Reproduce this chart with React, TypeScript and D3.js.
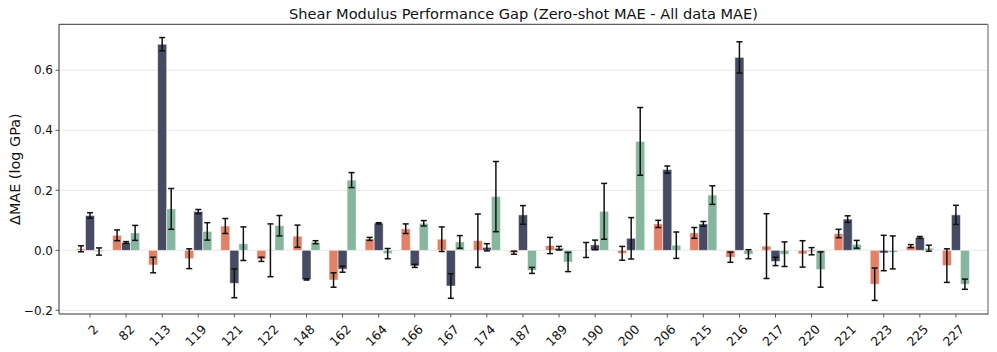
import React from "react";
import * as d3 from "d3";

const categories = ["2","82","113","119","121","122","148","162","164","166","167","174","187","189","190","200","206","215","216","217","220","221","223","225","227"];
const seriesA = [0.005,0.05,-0.049,-0.028,0.081,-0.03,0.047,-0.099,0.038,0.072,0.037,0.032,-0.008,0.016,0.001,-0.01,0.088,0.058,-0.023,0.014,-0.012,0.056,-0.113,0.014,-0.051];
const errA = [0.01,0.018,0.026,0.033,0.025,0.007,0.037,0.024,0.005,0.016,0.041,0.089,0.005,0.027,0.025,0.023,0.012,0.018,0.017,0.108,0.044,0.014,0.054,0.005,0.056];
const seriesB = [0.116,0.026,0.687,0.129,-0.11,0.0,-0.097,-0.063,0.09,-0.052,-0.119,0.01,0.118,0.007,0.018,0.04,0.269,0.088,0.643,-0.037,-0.003,0.104,-0.009,0.043,0.118];
const errB = [0.009,0.003,0.022,0.007,0.048,0.088,0.002,0.01,0.002,0.005,0.041,0.012,0.031,0.006,0.016,0.069,0.012,0.008,0.052,0.014,0.012,0.011,0.059,0.003,0.032];
const seriesC = [-0.004,0.058,0.138,0.063,0.022,0.082,0.027,0.234,-0.011,0.09,0.028,0.179,-0.067,-0.039,0.13,0.363,0.017,0.184,-0.013,-0.013,-0.064,0.02,-0.007,0.007,-0.113];
const errC = [0.012,0.025,0.068,0.029,0.056,0.034,0.005,0.025,0.017,0.009,0.021,0.117,0.01,0.032,0.093,0.113,0.044,0.031,0.015,0.041,0.059,0.013,0.055,0.01,0.017];
const yTicks = [-0.2, 0.0, 0.2, 0.4, 0.6];
const colors = ["#E07A5F", "#3D405B", "#81B29A"];

export default function App() {
  const W = 997, H = 352;
  const L = 59, R = 988, T = 24.3, B = 314;
  const x = d3.scaleLinear().domain([-0.86, 24.89]).range([L, R]);
  const y = d3.scaleLinear().domain([-0.2123, 0.7533]).range([B, T]);
  const bw = 0.25;
  const series = [
    { vals: seriesA, errs: errA, off: -bw },
    { vals: seriesB, errs: errB, off: 0 },
    { vals: seriesC, errs: errC, off: bw },
  ];
  const font = "DejaVu Sans, sans-serif";
  return (
    <svg width={W} height={H} style={{ position: "absolute", left: 0, top: 0, background: "#fff" }} fontFamily={font}>
      <rect x={0} y={0} width={W} height={H} fill="#fff" />
      {yTicks.map((t) => (
        <line key={"g" + t} x1={L} x2={R} y1={y(t)} y2={y(t)} stroke="#e8e8e8" strokeWidth={1} />
      ))}
      {series.map((s, si) =>
        s.vals.map((v, i) => {
          const x0 = x(i + s.off - bw / 2);
          const x1 = x(i + s.off + bw / 2);
          const y0 = y(Math.max(0, v));
          const y1 = y(Math.min(0, v));
          return (
            <rect key={`b${si}-${i}`} x={x0} y={y0} width={x1 - x0} height={Math.max(y1 - y0, 0.3)}
              fill={colors[si]} fillOpacity={0.95} stroke="#ffffff" strokeOpacity={0.6} strokeWidth={0.8} />
          );
        })
      )}
      {series.map((s, si) =>
        s.vals.map((v, i) => {
          const cx = x(i + s.off);
          const e = s.errs[i];
          const ya = y(v + e), yb = y(v - e);
          return (
            <g key={`e${si}-${i}`} stroke="#111" strokeWidth={1.5}>
              <line x1={cx} x2={cx} y1={ya} y2={yb} />
              <line x1={cx - 3} x2={cx + 3} y1={ya} y2={ya} />
              <line x1={cx - 3} x2={cx + 3} y1={yb} y2={yb} />
            </g>
          );
        })
      )}
      {/* spines */}
      <line x1={L} x2={R} y1={T} y2={T} stroke="#333" strokeWidth={1} />
      <line x1={L} x2={L} y1={T} y2={B} stroke="#333" strokeWidth={1} />
      <line x1={R} x2={R} y1={T} y2={B + 0.7} stroke="#999" strokeWidth={1.6} />
      <line x1={L} x2={R} y1={B} y2={B} stroke="#777" strokeWidth={1.4} />
      {yTicks.map((t) => (
        <g key={"yt" + t}>
          <line x1={L - 3.5} x2={L} y1={y(t)} y2={y(t)} stroke="#333" strokeWidth={0.8} />
          <text x={L - 6} y={y(t)} dy="0.35em" textAnchor="end" fontSize={12} fill="#111">
            {t < 0 ? "\u2212" + Math.abs(t).toFixed(1) : t.toFixed(1)}
          </text>
        </g>
      ))}
      {categories.map((c, i) => (
        <g key={"xt" + c}>
          <line x1={x(i)} x2={x(i)} y1={B} y2={B + 3.5} stroke="#333" strokeWidth={0.8} />
          <text transform={`translate(${x(i) + 3},${B + 10}) rotate(-45)`} textAnchor="end" dy="0.7em" fontSize={12.5} fill="#111">
            {c}
          </text>
        </g>
      ))}
      <text x={(L + R) / 2} y={19} textAnchor="middle" fontSize={14.6} fill="#111">
        Shear Modulus Performance Gap (Zero-shot MAE - All data MAE)
      </text>
      <text transform={`translate(20,${(T + B) / 2}) rotate(-90)`} textAnchor="middle" fontSize={14.4} fill="#111">
        ΔMAE (log GPa)
      </text>
    </svg>
  );
}
